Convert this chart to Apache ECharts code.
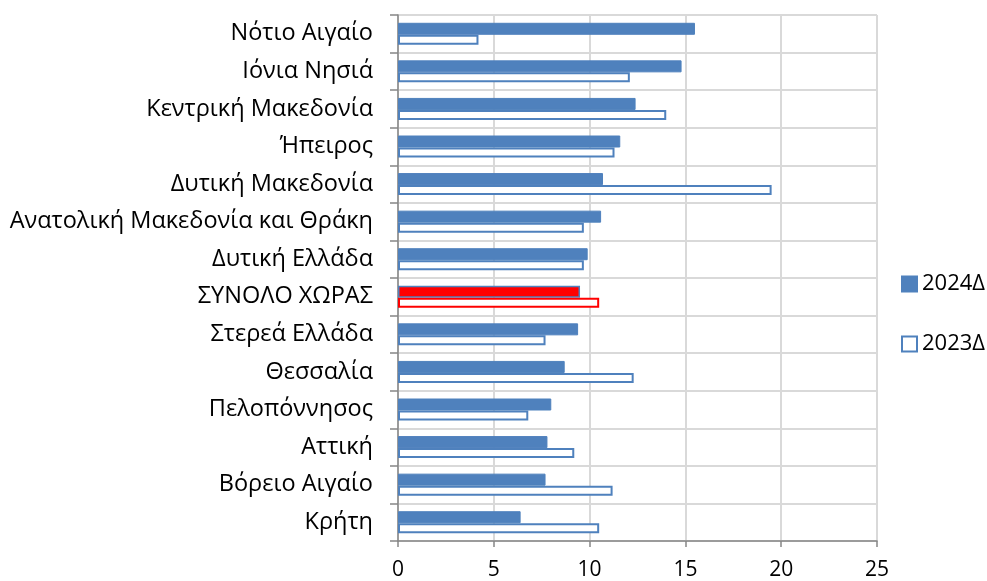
<!DOCTYPE html>
<html>
<head>
<meta charset="utf-8">
<script src="https://cdn.jsdelivr.net/npm/echarts@6/dist/echarts.min.js"></script>
<style>
html,body{margin:0;padding:0;background:#fff;}
#chart{width:987px;height:581px;}
</style>
</head>
<body>
<div id="chart"></div>
<script>
const categories = ['Νότιο Αιγαίο','Ιόνια Νησιά','Κεντρική Μακεδονία','Ήπειρος','Δυτική Μακεδονία','Ανατολική Μακεδονία και Θράκη','Δυτική Ελλάδα','ΣΥΝΟΛΟ ΧΩΡΑΣ','Στερεά Ελλάδα','Θεσσαλία','Πελοπόννησος','Αττική','Βόρειο Αιγαίο','Κρήτη'];
const values2024 = [15.5, 14.8, 12.4, 11.6, 10.7, 10.6, 9.9, 9.5, 9.4, 8.7, 8.0, 7.8, 7.7, 6.4];
const values2023 = [4.2, 12.1, 14.0, 11.3, 19.5, 9.7, 9.7, 10.5, 7.7, 12.3, 6.8, 9.2, 11.2, 10.5];
const seriesNames = ['2024Δ', '2023Δ'];
const highlightCategory = 'ΣΥΝΟΛΟ ΧΩΡΑΣ';
const xTicks = {min: 0, max: 25, interval: 5};

const FONT = 'Open Sans';
const BLUE = '#4f81bd';
const RED = '#ff0000';

const data2024 = values2024.map((v, i) => categories[i] === highlightCategory
  ? {value: v, itemStyle: {color: RED, borderColor: BLUE, borderWidth: 1.5}} : v);
const data2023 = values2023.map((v, i) => categories[i] === highlightCategory
  ? {value: v, itemStyle: {color: '#ffffff', borderColor: RED, borderWidth: 2}} : v);

const chart = echarts.init(document.getElementById('chart'), null, {renderer: 'canvas'});
chart.setOption({
  animation: false,
  backgroundColor: '#ffffff',
  grid: {left: 398, right: 110, top: 15, bottom: 39, containLabel: false},
  legend: {
    orient: 'vertical',
    left: 896,
    top: 268,
    itemWidth: 15,
    itemHeight: 15,
    itemGap: 38,
    icon: 'rect',
    textStyle: {fontFamily: FONT, fontSize: 22, color: '#000'},
    data: seriesNames
  },
  xAxis: {
    type: 'value',
    min: xTicks.min, max: xTicks.max, interval: xTicks.interval,
    axisLine: {show: true, lineStyle: {color: '#868686', width: 1.5}},
    axisTick: {show: true, length: 6, lineStyle: {color: '#868686', width: 1.5}},
    splitLine: {show: true, lineStyle: {color: '#d9d9d9', width: 2}},
    axisLabel: {fontFamily: FONT, fontSize: 21, color: '#000', margin: 19}
  },
  yAxis: {
    type: 'category',
    inverse: true,
    data: categories,
    axisLine: {show: true, lineStyle: {color: '#868686', width: 1.5}},
    axisTick: {show: true, length: 8, lineStyle: {color: '#868686', width: 1.5}},
    splitLine: {show: true, lineStyle: {color: '#d9d9d9', width: 2}},
    axisLabel: {fontFamily: FONT, fontSize: 23.5, color: '#000', margin: 25}
  },
  series: [
    {
      name: seriesNames[0], type: 'bar', data: data2024,
      barWidth: 12, barGap: '0%',
      itemStyle: {color: BLUE, borderColor: BLUE, borderWidth: 1}
    },
    {
      name: seriesNames[1], type: 'bar', data: data2023,
      barWidth: 10, barGap: '0%',
      itemStyle: {color: '#ffffff', borderColor: BLUE, borderWidth: 2}
    }
  ]
});
</script>
</body>
</html>
